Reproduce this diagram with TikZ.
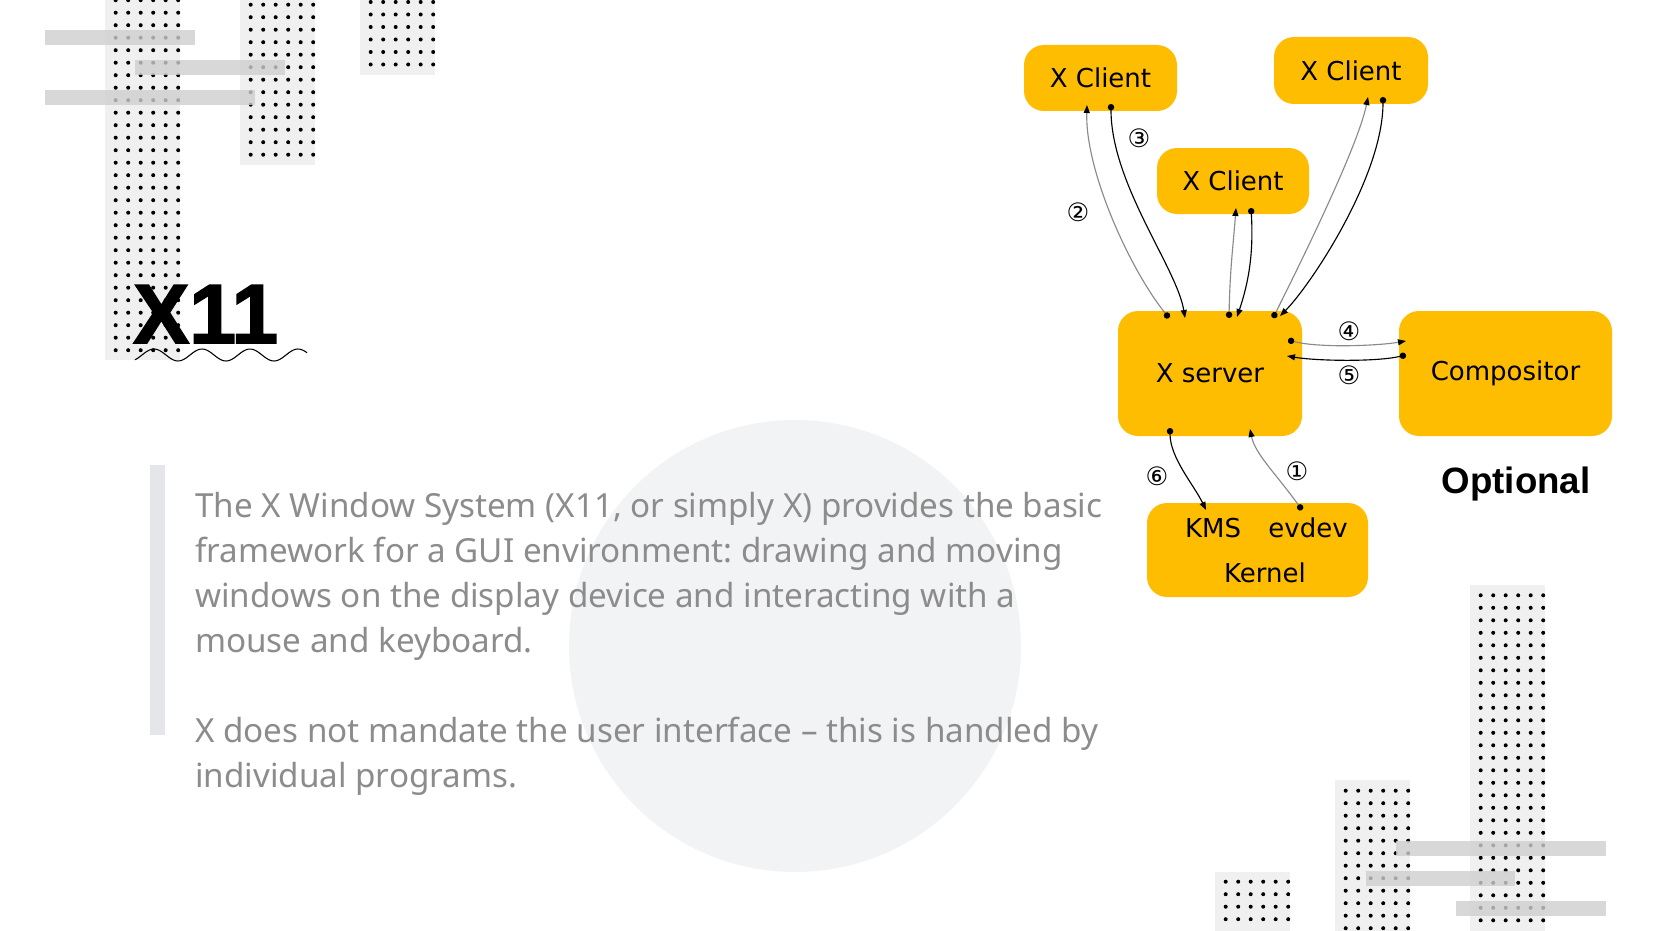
\documentclass[tikz,border=0pt]{standalone}
\usepackage{fontspec}
\setmainfont{Noto Sans}
\newfontfamily\boxfont{DejaVu Sans}
\newfontfamily\headfont{Liberation Sans}
\newfontfamily\titlefont[FakeBold=2]{Liberation Sans Bold}
\usepackage{tikz}
\usetikzlibrary{arrows.meta,
                calc,
                positioning}
\frenchspacing

\definecolor{xyellow}{RGB}{254,189,0}
\definecolor{bodygray}{RGB}{140,140,140}
\definecolor{circgray}{RGB}{242,243,245}
\definecolor{bargray}{RGB}{228,230,233}
\definecolor{linegray}{RGB}{138,138,138}

\tikzset{
  box/.style={fill=xyellow, rounded corners=15pt, inner sep=0pt,
              font=\boxfont\fontsize{19.5}{22}\selectfont},
  num/.style={font=\boxfont\fontsize{19}{19}\selectfont, inner sep=0pt},
  link/.style={line width=0.85pt,
               {Circle[length=4.8pt,color=black]}-{Triangle[length=6pt,width=4.5pt,color=black]}},
  strip/.style={fill=black!19, fill opacity=0.8},
  body/.style={font=\fontsize{24.9}{34}\selectfont, text=bodygray,
               anchor=base west, inner sep=0pt}
}

\begin{document}
\begin{tikzpicture}[x=0.75pt,y=-0.75pt]
\useasboundingbox (0,0) rectangle (1654,931);
\fill[white] (0,0) rectangle (1654,931);

% dotted patches
\foreach \px/\py/\ph/\ry/\nr in {105/0/360/0.2/28, 240/0/165/4.7/12, 360/0/75/2/5,
                                  1215/872/59/881.7/3, 1335/780/151/790.7/11, 1470/585/346/595.3/26}{
  \fill[black!6] (\px,\py) rectangle ++(75,\ph);
  \foreach \i in {0,...,5}
    \foreach \j in {0,...,\nr}
      \fill (\px+10.7+12.5*\i,\ry+12.5*\j) circle (1.5pt);
}
\foreach \ax/\ay/\bx in {45/30/195, 135/60/285, 45/90/255,
                         1396/841/1606, 1366/871/1515, 1456/901/1606}
  \fill[strip] (\ax,\ay) rectangle (\bx,\ay+15);

% title
\node[anchor=base west, inner sep=0pt, font=\titlefont\fontsize{63}{63}\selectfont]
  (title) at (133,343) {X11};
\draw[line width=0.8pt] plot[domain=0:172, samples=90, smooth]
  ({\x+135},{355-6*cos(7.5*(\x-19))});

% body text
\fill[circgray] (795,646) circle (169.5pt);
\fill[bargray] (150,465) rectangle (165,735);
\foreach \t/\yy [count=\i] in {{The X Window System (X11, or simply X) provides the basic}/517,
                               {framework for a GUI environment: drawing and moving}/562,
                               {windows on the display device and interacting with a}/607,
                               {mouse and keyboard.}/652,
                               {X does not mandate the user interface – this is handled by}/742,
                               {individual programs.}/787}
  \node[body] (l\i) at (195,\yy) {\t};

% diagram
\node[box, minimum width=114.75pt, minimum height=49.5pt] (cla) at (1100.5,78) {X Client};
\node[box, minimum width=115.5pt, minimum height=50.25pt] (clc) at (1351,70.5) {X Client};
\node[box, minimum width=114pt, minimum height=49.5pt] (clb) at (1233,181) {X Client};
\node[box, minimum width=138pt, minimum height=93.75pt] (srv) at (1210,373.5) {X server};
\node[box, minimum width=159.75pt, minimum height=93.75pt] (comp) at (1505.5,373.5) {Compositor};
\node[box, minimum width=165.75pt, minimum height=70.5pt] (kern) at (1257.5,550) {};
\node[font=\boxfont\fontsize{19.5}{22}\selectfont, inner sep=0pt] (kms) at (1213,528) {KMS};
\node[font=\boxfont\fontsize{19.5}{22}\selectfont, inner sep=0pt] (evd) at (1308,528) {evdev};
\node[font=\boxfont\fontsize{19.5}{22}\selectfont, inner sep=0pt] (kname) at (1265,573) {Kernel};
\node[anchor=base, inner sep=0pt, font=\headfont\bfseries\fontsize{27.5}{30}\selectfont]
  (opt) at (1516,493) {Optional};

% connector ends
\coordinate (evdot) at (1302,510);
\coordinate (srvup) at (1250,429);
\coordinate (srvdn) at (1170,428);
\coordinate (kmsin) at (1206,510);
\coordinate (sa) at (1169,318);
\coordinate (sb) at (1185,318);
\coordinate (sc) at (1229,318);
\coordinate (sd) at (1237,317);
\coordinate (se) at (1273,318);
\coordinate (sf) at (1280,316);
\coordinate (ca) at (1087,105);
\coordinate (cb) at (1111,104);
\coordinate (cc) at (1236,208);
\coordinate (cd) at (1251,208);
\coordinate (ce) at (1368,97);
\coordinate (cf) at (1383,97);
\coordinate (so) at (1288,340);
\coordinate (si) at (1287,356);
\coordinate (po) at (1406,355);
\coordinate (pi) at (1406,341);

\draw[link, linegray] (evdot) .. controls +(-25,-35) and +(5,25) .. (srvup);
\draw[link] (srvdn) .. controls +(0,30) and +(-12,-25) .. (kmsin);
\draw[link, linegray] (sa) .. controls +(-40,-50) and +(-2,65) .. (ca);
\draw[link] (cb) .. controls +(0,80) and +(-8,-50) .. (sb);
\draw[link, linegray] (sc) .. controls +(1,-50) and +(-3,40) .. (cc);
\draw[link] (cd) .. controls +(3,50) and +(10,-30) .. (sd);
\draw[link, linegray] (se) .. controls +(25,-50) and +(-10,50) .. (ce);
\draw[link] (cf) .. controls +(0,80) and +(30,-30) .. (sf);
\draw[link, linegray] (so) .. controls +(30,8) and +(-30,5) .. (pi);
\draw[link] (po) .. controls +(-30,7) and +(30,5) .. (si);

\node[num] (n1) at (1297,471) {①};
\node[num] (n2) at (1078,212) {②};
\node[num] (n3) at (1139,138) {③};
\node[num] (n4) at (1349,331) {④};
\node[num] (n5) at (1349,375) {⑤};
\node[num] (n6) at (1157,476) {⑥};
\end{tikzpicture}
\end{document}
